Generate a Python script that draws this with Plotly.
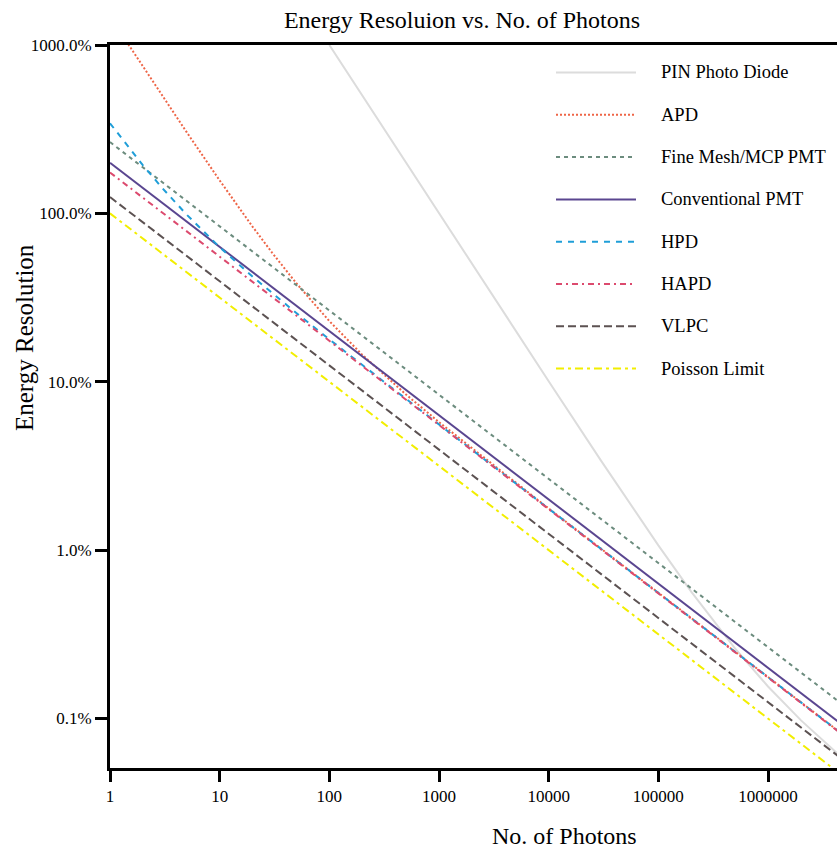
import plotly.graph_objects as go

# ---------------- data ----------------
series_names = ["PIN Photo Diode", "APD", "Fine Mesh/MCP PMT", "Conventional PMT",
                "HPD", "HAPD", "VLPC", "Poisson Limit"]

pin_n = [100, 300, 1000, 3000, 10000, 30000, 100000, 200000, 500000, 1000000, 2000000, 5000000, 10000000]
pin_res = [10.0, 3.334, 1.0007, 0.33404, 0.10070, 0.034026, 0.010677, 0.005657, 0.0026077, 0.0015492,
           0.0009747, 0.0005657, 0.0003873]

apd_n = [1.4, 2, 3, 5, 10, 20, 30, 50, 100, 200, 500, 1000, 10000, 10000000]
apd_res = [10.58, 7.436, 4.992, 3.0364, 1.5684, 0.8322, 0.5850, 0.3847, 0.22913, 0.14448, 0.08402,
           0.05758, 0.017668, 0.0005568]

finemesh_n = [1, 10000000]
finemesh_res = [2.65, 0.000838]

pmt_n = [1, 10000000]
pmt_res = [2.0, 0.0006325]

hpd_n = [1, 2, 3, 5, 10, 20, 50, 100, 1000, 10000000]
hpd_res = [3.429, 1.9275, 1.4126, 0.9831, 0.6298, 0.4203, 0.25586, 0.17851, 0.055755, 0.0005568]

hapd_n = [1, 10000000]
hapd_res = [1.75, 0.0005534]

vlpc_n = [1, 10000000]
vlpc_res = [1.25, 0.0003953]

poisson_n = [1, 10000000]
poisson_res = [1.0, 0.0003162]

x_tickvals = [1, 10, 100, 1000, 10000, 100000, 1000000]
x_ticktext = ["1", "10", "100", "1000", "10000", "100000", "1000000"]
y_tickvals = [10, 1, 0.1, 0.01, 0.001]
y_ticktext = ["1000.0%", "100.0%", "10.0%", "1.0%", "0.1%"]

# ---------------- styling ----------------
FONT = "Liberation Serif"
W, H = 837, 851
L, R, T, B = 110, 0, 45, 83
PW, PH = W - L - R, H - T - B

styles = [
    dict(color="#dcdcdc", dash="solid", width=2),
    dict(color="#ee6547", dash="2px,2px", width=2),
    dict(color="#6c8c7e", dash="4px,4px", width=2),
    dict(color="#5a4690", dash="solid", width=2),
    dict(color="#1f9ed8", dash="6px,6px", width=2),
    dict(color="#dc4a6e", dash="6px,4px,2px,4px", width=2),
    dict(color="#5c5252", dash="8px,4px", width=2),
    dict(color="#f2ee00", dash="8px,4px,3px,4px", width=2),
]

data = [(pin_n, pin_res), (apd_n, apd_res), (finemesh_n, finemesh_res), (pmt_n, pmt_res),
        (hpd_n, hpd_res), (hapd_n, hapd_res), (vlpc_n, vlpc_res), (poisson_n, poisson_res)]

fig = go.Figure()
for name, (xs, ys), st in zip(series_names, data, styles):
    fig.add_trace(go.Scatter(x=xs, y=ys, mode="lines", name=name, line=st,
                             showlegend=False, hoverinfo="name"))


def px_x(p):
    return (p - L) / PW


def px_y(p):
    return (H - B - p) / PH


# manual legend
shapes = []
annotations = []
for i, (name, st) in enumerate(zip(series_names, styles)):
    yy = px_y(72.5 + 42.3 * i)
    shapes.append(dict(type="line", xref="paper", yref="paper",
                       x0=px_x(556), x1=px_x(636), y0=yy, y1=yy,
                       line=dict(color=st["color"], dash=st["dash"], width=st["width"])))
    annotations.append(dict(text=name, xref="paper", yref="paper", x=px_x(659), y=yy,
                            xanchor="left", yanchor="middle", showarrow=False,
                            font=dict(family=FONT, size=18.5, color="#000")))

annotations.append(dict(text="No. of Photons", xref="paper", yref="paper",
                        x=px_x(564), y=px_y(836), xanchor="center", yanchor="middle",
                        showarrow=False, font=dict(family=FONT, size=24, color="#000")))
annotations.append(dict(text="Energy Resolution", xref="paper", yref="paper",
                        x=px_x(24), y=px_y(338), xanchor="center", yanchor="middle",
                        textangle=-90, showarrow=False,
                        font=dict(family=FONT, size=25, color="#000")))

fig.update_layout(
    width=W, height=H,
    margin=dict(l=L, r=R, t=T, b=B, pad=0),
    paper_bgcolor="white", plot_bgcolor="white",
    title=dict(text="Energy Resoluion vs. No. of Photons", xref="paper", x=px_x(462),
               xanchor="center", yref="container", y=1 - 20 / H, yanchor="middle",
               font=dict(family=FONT, size=24, color="#000")),
    shapes=shapes, annotations=annotations,
    showlegend=False,
)

fig.update_xaxes(type="log", range=[0, 6.629], showgrid=False, zeroline=False,
                 showline=True, linecolor="black", linewidth=3, mirror=True,
                 ticks="outside", ticklen=11, tickwidth=2.5, tickcolor="black",
                 tickvals=x_tickvals, ticktext=x_ticktext,
                 tickfont=dict(family=FONT, size=17, color="#000"))
fig.update_yaxes(type="log", range=[-3.294, 1], showgrid=False, zeroline=False,
                 showline=True, linecolor="black", linewidth=3,
                 ticks="outside", ticklen=12, tickwidth=2.5, tickcolor="black",
                 tickvals=y_tickvals, ticktext=y_ticktext,
                 tickfont=dict(family=FONT, size=17, color="#000"))

fig.write_html("out.html", config={"displayModeBar": False},
               post_script="document.body.style.margin='0px';document.body.style.overflow='hidden';")
